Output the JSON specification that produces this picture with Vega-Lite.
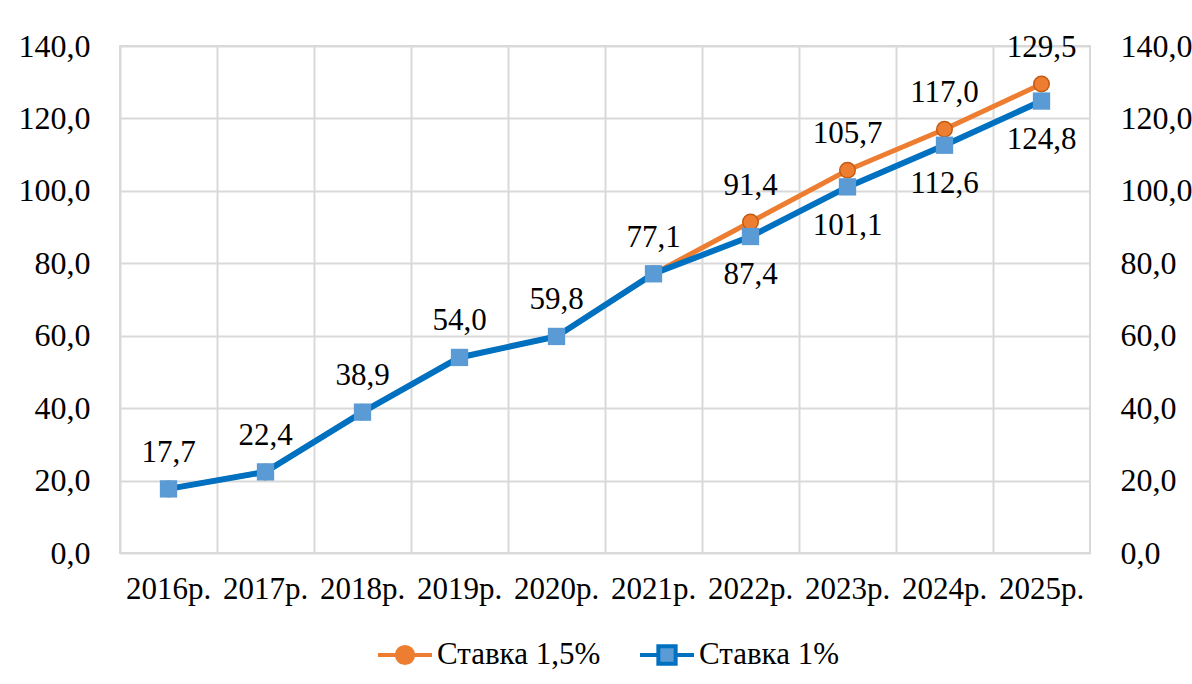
{
  "$schema": "https://vega.github.io/schema/vega-lite/v6.json",
  "width": 970,
  "height": 507,
  "autosize": {"type": "none"},
  "padding": {"left": 120, "top": 46, "right": 102, "bottom": 131},
  "background": "white",
  "config": {
    "locale": {"number": {"decimal": ",", "thousands": " ", "grouping": [3], "currency": ["", ""]}},
    "view": {"stroke": "#D9D9D9", "strokeWidth": 2},
    "font": "Liberation Serif"
  },
  "data": {
    "values": [
      {"year": "2016р.", "series": "Ставка 1,5%", "value": 17.7},
      {"year": "2017р.", "series": "Ставка 1,5%", "value": 22.4},
      {"year": "2018р.", "series": "Ставка 1,5%", "value": 38.9},
      {"year": "2019р.", "series": "Ставка 1,5%", "value": 54.0},
      {"year": "2020р.", "series": "Ставка 1,5%", "value": 59.8},
      {"year": "2021р.", "series": "Ставка 1,5%", "value": 77.1},
      {"year": "2022р.", "series": "Ставка 1,5%", "value": 91.4},
      {"year": "2023р.", "series": "Ставка 1,5%", "value": 105.7},
      {"year": "2024р.", "series": "Ставка 1,5%", "value": 117.0},
      {"year": "2025р.", "series": "Ставка 1,5%", "value": 129.5},
      {"year": "2016р.", "series": "Ставка 1%", "value": 17.7},
      {"year": "2017р.", "series": "Ставка 1%", "value": 22.4},
      {"year": "2018р.", "series": "Ставка 1%", "value": 38.9},
      {"year": "2019р.", "series": "Ставка 1%", "value": 54.0},
      {"year": "2020р.", "series": "Ставка 1%", "value": 59.8},
      {"year": "2021р.", "series": "Ставка 1%", "value": 77.1},
      {"year": "2022р.", "series": "Ставка 1%", "value": 87.4},
      {"year": "2023р.", "series": "Ставка 1%", "value": 101.1},
      {"year": "2024р.", "series": "Ставка 1%", "value": 112.6},
      {"year": "2025р.", "series": "Ставка 1%", "value": 124.8}
    ]
  },
  "resolve": {"axis": {"x": "independent", "y": "independent"}},
  "layer": [
    {
      "transform": [{"filter": "datum.series === 'Ставка 1,5%'"}],
      "mark": {"type": "line", "color": "#ED7D31", "strokeWidth": 5},
      "encoding": {
        "x": {"field": "year", "type": "nominal", "sort": null,
              "scale": {"type": "band", "paddingInner": 0, "paddingOuter": 0},
              "axis": {"orient": "bottom", "title": null, "labelFont": "Liberation Serif", "labelFontSize": 31, "labelColor": "#000000", "labelAngle": 0, "ticks": false, "domain": false, "grid": false, "labelPadding": 21}},
        "y": {"field": "value", "type": "quantitative",
              "scale": {"domain": [0, 140], "nice": false},
              "axis": {"orient": "left", "title": null, "values": [0, 20, 40, 60, 80, 100, 120, 140], "format": ".1f", "grid": true, "gridColor": "#D9D9D9", "gridWidth": 2, "ticks": false, "domain": false, "labelPadding": 30, "labelFont": "Liberation Serif", "labelFontSize": 32, "labelColor": "#000000"}}
      }
    },
    {
      "transform": [{"filter": "datum.series === 'Ставка 1,5%'"}],
      "mark": {"type": "point", "shape": "circle", "filled": true, "fill": "#ED7D31", "stroke": "#C55A11", "strokeWidth": 1.5, "size": 240, "opacity": 1},
      "encoding": {
        "x": {"field": "year", "type": "nominal", "sort": null,
              "axis": {"orient": "top", "title": null, "labels": false, "ticks": false, "domain": false, "grid": true, "bandPosition": 0, "gridColor": "#D9D9D9", "gridWidth": 2}},
        "y": {"field": "value", "type": "quantitative",
              "axis": {"orient": "right", "title": null, "values": [0, 20, 40, 60, 80, 100, 120, 140], "format": ".1f", "grid": false, "ticks": false, "domain": false, "labelPadding": 30, "labelFont": "Liberation Serif", "labelFontSize": 32, "labelColor": "#000000"}}
      }
    },
    {
      "transform": [{"filter": "datum.series === 'Ставка 1%'"}],
      "mark": {"type": "line", "color": "#0070C0", "strokeWidth": 6},
      "encoding": {
        "x": {"field": "year", "type": "nominal", "sort": null, "axis": null},
        "y": {"field": "value", "type": "quantitative", "axis": null}
      }
    },
    {
      "transform": [{"filter": "datum.series === 'Ставка 1%'"}],
      "mark": {"type": "point", "shape": "square", "filled": true, "fill": "#5B9BD5", "strokeWidth": 0, "size": 300, "opacity": 1},
      "encoding": {
        "x": {"field": "year", "type": "nominal", "sort": null, "axis": null},
        "y": {"field": "value", "type": "quantitative", "axis": null}
      }
    },
    {
      "transform": [{"filter": "datum.series === 'Ставка 1,5%'"}],
      "mark": {"type": "text", "font": "Liberation Serif", "fontSize": 31, "color": "#000000", "dy": -36, "baseline": "middle", "align": "center"},
      "encoding": {
        "x": {"field": "year", "type": "nominal", "sort": null, "axis": null},
        "y": {"field": "value", "type": "quantitative", "axis": null},
        "text": {"field": "value", "type": "quantitative", "format": ".1f"}
      }
    },
    {
      "transform": [{"filter": "datum.series === 'Ставка 1%'"}, {"filter": {"field": "year", "oneOf": ["2022р.", "2023р.", "2024р.", "2025р."]}}],
      "mark": {"type": "text", "font": "Liberation Serif", "fontSize": 31, "color": "#000000", "dy": 39, "baseline": "middle", "align": "center"},
      "encoding": {
        "x": {"field": "year", "type": "nominal", "sort": null, "axis": null},
        "y": {"field": "value", "type": "quantitative", "axis": null},
        "text": {"field": "value", "type": "quantitative", "format": ".1f"}
      }
    },
    {
      "transform": [{"filter": "false"}],
      "mark": {"type": "point", "filled": true, "strokeWidth": 4, "size": 2916, "opacity": 1},
      "encoding": {
        "fill": {"field": "series", "type": "nominal",
                 "scale": {"domain": ["Ставка 1,5%"], "range": ["#ED7D31"]},
                 "legend": {"title": null, "orient": "none", "legendX": 256, "legendY": 580, "direction": "horizontal", "symbolType": "M-1,0H-0.3M0.3,0H1M-0.3,0A0.3,0.3,0,1,1,0.3,0A0.3,0.3,0,1,1,-0.3,0Z", "symbolSize": 2916, "symbolStrokeWidth": 4, "symbolStrokeColor": "#ED7D31", "symbolOpacity": 1, "labelFont": "Liberation Serif", "labelFontSize": 31, "labelColor": "#000000", "labelOffset": 3, "padding": 0, "labelLimit": 400}}
      }
    },
    {
      "transform": [{"filter": "false"}],
      "mark": {"type": "point", "filled": true, "fill": "#5B9BD5", "strokeWidth": 4, "size": 2916, "opacity": 1},
      "encoding": {
        "stroke": {"field": "series", "type": "nominal",
                 "scale": {"domain": ["Ставка 1%"], "range": ["#0070C0"]},
                 "legend": {"title": null, "orient": "none", "legendX": 518, "legendY": 580, "direction": "horizontal", "symbolType": "M-1,0H-0.32M0.32,0H1M-0.32,-0.32H0.32V0.32H-0.32Z", "symbolSize": 2916, "symbolStrokeWidth": 4, "symbolFillColor": "#5B9BD5", "symbolOpacity": 1, "labelFont": "Liberation Serif", "labelFontSize": 31, "labelColor": "#000000", "labelOffset": 3, "padding": 0, "labelLimit": 400}}
      }
    }
  ]
}
